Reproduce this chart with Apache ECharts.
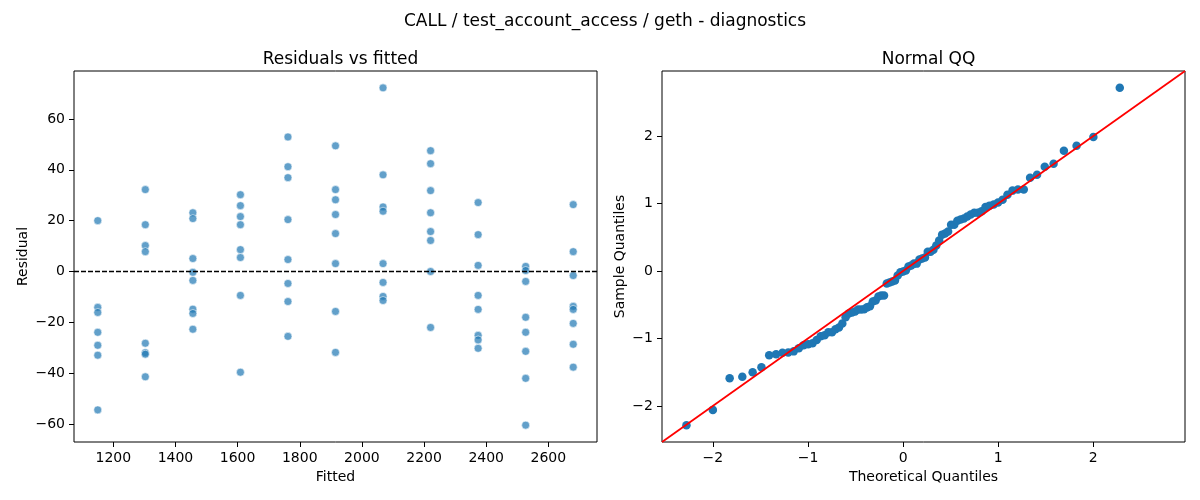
<!DOCTYPE html>
<html>
<head>
<meta charset="utf-8">
<script src="https://cdn.jsdelivr.net/npm/echarts@6/dist/echarts.min.js"></script>
<style>
html,body{margin:0;padding:0;background:#fff;}
#chart{width:1200px;height:500px;}
</style>
</head>
<body>
<div id="chart"></div>
<script>
// ---- data ----
const fittedLevels = [1150, 1303, 1456, 1609, 1762, 1915, 2068, 2221, 2374, 2527, 2680];
const res1150 = [20.0, -14.1, -16.1, -23.9, -29.0, -32.9, -54.4];
const res1303 = [32.2, 18.4, 10.2, 7.8, -28.2, -31.9, -32.5, -41.4];
const res1456 = [23.1, 20.8, 5.1, -0.3, -3.5, -14.8, -16.5, -22.7];
const res1609 = [30.2, 25.9, 21.6, 18.4, 8.6, 5.5, -9.4, -39.6];
const res1762 = [52.9, 41.2, 36.9, 20.4, 4.7, -4.7, -11.8, -25.5];
const res1915 = [49.4, 32.2, 28.2, 22.4, 14.9, 3.1, -15.7, -31.8];
const res2068 = [72.2, 38.0, 25.4, 23.7, 3.1, -4.3, -9.8, -11.4];
const res2221 = [47.5, 42.4, 31.8, 23.1, 15.7, 12.2, 0.0, -22.0];
const res2374 = [27.1, 14.5, 2.4, -9.4, -14.9, -25.1, -26.9, -30.2];
const res2527 = [2.0, 0.4, -3.9, -18.0, -23.9, -31.4, -42.0, -60.4];
const res2680 = [26.3, 7.8, -1.6, -13.7, -14.9, -20.4, -28.6, -37.6];
const residualGroups = [res1150, res1303, res1456, res1609, res1762, res1915, res2068, res2221, res2374, res2527, res2680];

const fittedTicks = [1200, 1400, 1600, 1800, 2000, 2200, 2400, 2600];
const residualTicks = [-60, -40, -20, 0, 20, 40, 60];
const qqTicks = [-2, -1, 0, 1, 2];

// ---- residuals vs fitted points ----
const residPoints = [];
fittedLevels.forEach((f, i) => residualGroups[i].forEach(r => residPoints.push([f, r])));
const allRes = residPoints.map(p => p[1]);

// ---- Normal QQ (derived from the residuals, as statsmodels qqplot fit=True, line='45') ----
function normPpf(p) {
  const a = [-3.969683028665376e+01, 2.209460984245205e+02, -2.759285104469687e+02, 1.383577518672690e+02, -3.066479806614716e+01, 2.506628277459239e+00];
  const b = [-5.447609879822406e+01, 1.615858368580409e+02, -1.556989798598866e+02, 6.680131188771972e+01, -1.328068155833527e+01];
  const c = [-7.784894002430293e-03, -3.223964580411365e-01, -2.400758277161838e+00, -2.549732539343734e+00, 4.374664141464968e+00, 2.938163982698783e+00];
  const d = [7.784695709041462e-03, 3.224671290700398e-01, 2.445134137400960e+00, 3.754408330719300e+00];
  const plow = 0.02425;
  let q, r;
  if (p < plow) {
    q = Math.sqrt(-2 * Math.log(p));
    return (((((c[0]*q+c[1])*q+c[2])*q+c[3])*q+c[4])*q+c[5]) / ((((d[0]*q+d[1])*q+d[2])*q+d[3])*q+1);
  } else if (p > 1 - plow) {
    q = Math.sqrt(-2 * Math.log(1 - p));
    return -(((((c[0]*q+c[1])*q+c[2])*q+c[3])*q+c[4])*q+c[5]) / ((((d[0]*q+d[1])*q+d[2])*q+d[3])*q+1);
  }
  q = p - 0.5; r = q * q;
  return (((((a[0]*r+a[1])*r+a[2])*r+a[3])*r+a[4])*r+a[5])*q / (((((b[0]*r+b[1])*r+b[2])*r+b[3])*r+b[4])*r+1);
}
const n = allRes.length;
const mean = allRes.reduce((s, v) => s + v, 0) / n;
const sd = Math.sqrt(allRes.reduce((s, v) => s + (v - mean) * (v - mean), 0) / n);
const sampleQ = allRes.map(v => (v - mean) / sd).sort((x, y) => x - y);
const theoQ = sampleQ.map((_, i) => normPpf((i + 1) / (n + 1)));
const qqPoints = sampleQ.map((s, i) => [theoQ[i], s]);

function padLims(arr) {
  const lo = Math.min(...arr), hi = Math.max(...arr), m = (hi - lo) * 0.05;
  return [lo - m, hi + m];
}
const fx = padLims(fittedLevels);
const ry = padLims(allRes);
const qx = padLims(theoQ), qy = padLims(sampleQ);
const qLo = Math.min(qx[0], qy[0]), qHi = Math.max(qx[1], qy[1]);

// ---- styling helpers ----
const FONT = 'DejaVu Sans';
const fmt = v => String(v).replace('-', '\u2212');
function axis(gridIndex, lims, ticks, name, nameGap) {
  return {
    type: 'value', gridIndex, min: lims[0], max: lims[1], scale: true,
    name, nameLocation: 'middle', nameGap,
    nameTextStyle: { fontFamily: FONT, fontSize: 14, color: '#000' },
    axisLine: { show: false, onZero: false },
    splitLine: { show: false },
    axisTick: { show: true, inside: false, length: 5, customValues: ticks, lineStyle: { color: '#000', width: 1 } },
    axisLabel: { show: true, margin: 9, customValues: ticks, formatter: fmt, fontFamily: FONT, fontSize: 14, color: '#000' }
  };
}

const chart = echarts.init(document.getElementById('chart'), null, { renderer: 'canvas' });
chart.setOption({
  animation: false,
  backgroundColor: '#fff',
  title: [
    { text: 'CALL / test_account_access / geth - diagnostics', left: 600, top: 8, textAlign: 'center',
      textStyle: { fontFamily: FONT, fontSize: 17, fontWeight: 'normal', color: '#000' } },
    { text: 'Residuals vs fitted', left: 335.5, top: 46, textAlign: 'center',
      textStyle: { fontFamily: FONT, fontSize: 17, fontWeight: 'normal', color: '#000' } },
    { text: 'Normal QQ', left: 923.5, top: 46, textAlign: 'center',
      textStyle: { fontFamily: FONT, fontSize: 17, fontWeight: 'normal', color: '#000' } }
  ],
  grid: [
    { left: 74, top: 71, width: 523, height: 371, show: true, borderColor: '#000', borderWidth: 1, backgroundColor: 'transparent' },
    { left: 662, top: 71, width: 523, height: 371, show: true, borderColor: '#000', borderWidth: 1, backgroundColor: 'transparent' }
  ],
  xAxis: [
    axis(0, fx, fittedTicks, 'Fitted', 27),
    axis(1, [qLo, qHi], qqTicks, 'Theoretical Quantiles', 27)
  ],
  yAxis: [
    axis(0, ry, residualTicks, 'Residual', 44),
    axis(1, [qLo, qHi], qqTicks, 'Sample Quantiles', 35)
  ],
  series: [
    {
      type: 'scatter', xAxisIndex: 0, yAxisIndex: 0, data: residPoints, symbolSize: 8,
      itemStyle: { color: '#1f77b4', opacity: 0.7, borderColor: '#fff', borderWidth: 0.8 },
      markLine: {
        silent: true, symbol: 'none', animation: false, z: 3,
        label: { show: false },
        lineStyle: { color: '#000', type: [5, 2], width: 1.4 },
        data: [{ yAxis: 0 }]
      }
    },
    {
      type: 'scatter', xAxisIndex: 1, yAxisIndex: 1, data: qqPoints, symbolSize: 8.5,
      itemStyle: { color: '#1f77b4', opacity: 1 }
    },
    {
      type: 'line', xAxisIndex: 1, yAxisIndex: 1, data: [[qLo, qLo], [qHi, qHi]],
      symbol: 'none', z: 5, lineStyle: { color: '#ff0000', width: 1.8 }
    }
  ]
});
</script>
</body>
</html>
